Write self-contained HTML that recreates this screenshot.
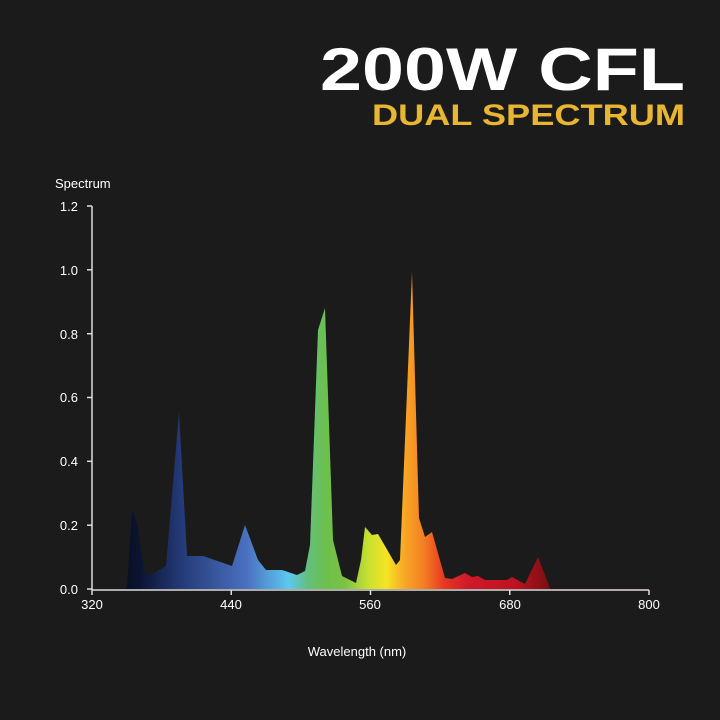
<!DOCTYPE html>
<html><head><style>
html,body{margin:0;padding:0;background:#1b1b1b;}
svg{display:block}
</style></head><body>
<svg width="720" height="720" viewBox="0 0 720 720" xmlns="http://www.w3.org/2000/svg">
<rect width="720" height="720" fill="#1b1b1b"/>
<defs>
<linearGradient id="g" gradientUnits="userSpaceOnUse" x1="92" y1="0" x2="560" y2="0">
<stop offset="0" stop-color="#05070d"/>
<stop offset="0.1" stop-color="#0a1330"/>
<stop offset="0.19" stop-color="#243a78"/>
<stop offset="0.33" stop-color="#4a70bf"/>
<stop offset="0.42" stop-color="#5cc8f0"/>
<stop offset="0.46" stop-color="#62c080"/>
<stop offset="0.5" stop-color="#6cc04c"/>
<stop offset="0.54" stop-color="#7cc244"/>
<stop offset="0.59" stop-color="#c8e030"/>
<stop offset="0.63" stop-color="#f5e424"/>
<stop offset="0.67" stop-color="#f8a424"/>
<stop offset="0.71" stop-color="#f37e22"/>
<stop offset="0.75" stop-color="#e83a22"/>
<stop offset="0.8" stop-color="#d01a2a"/>
<stop offset="0.9" stop-color="#c01222"/>
<stop offset="0.96" stop-color="#8a1014"/>
<stop offset="1" stop-color="#5a0e10"/>
</linearGradient>
</defs>
<text x="685" y="90" text-anchor="end" font-family="Liberation Sans, sans-serif" font-weight="bold" font-size="60" fill="#fff" textLength="365" lengthAdjust="spacingAndGlyphs">200W CFL</text>
<text x="685" y="125" text-anchor="end" font-family="Liberation Sans, sans-serif" font-weight="bold" font-size="30" fill="#e9b632" textLength="313" lengthAdjust="spacingAndGlyphs">DUAL SPECTRUM</text>

<path fill="url(#g)" d="M92,589 L125,589 L127,586 L132,510 L138,526 L140,545 L145,574 L150,575 L166,566 L179,412 L187,556 L203,556 L232,566 L245,525 L258,560 L266,570 L282,570 L297,575 L305,571 L310,545 L318,330 L325,308 L333,540 L342,576 L356,583 L361,560 L365,527 L372,535 L378,534 L396,565 L400,560 L412,272 L419,518 L425,537 L432,532 L445,578 L452,579 L465,573 L472,577 L478,576 L485,580 L507,580 L512,577 L525,584 L538,557 L550,588 L552,589 Z"/>
<line x1="550" y1="589" x2="649" y2="589" stroke="#3a1010" stroke-width="1"/>

<g stroke="#ddd" stroke-width="1.5" fill="none">
<line x1="92" y1="206" x2="92" y2="590"/>
<line x1="92" y1="590" x2="649" y2="590"/>
<line x1="87" y1="206" x2="92" y2="206"/>
<line x1="87" y1="269.8" x2="92" y2="269.8"/>
<line x1="87" y1="333.7" x2="92" y2="333.7"/>
<line x1="87" y1="397.5" x2="92" y2="397.5"/>
<line x1="87" y1="461.3" x2="92" y2="461.3"/>
<line x1="87" y1="525.2" x2="92" y2="525.2"/>
<line x1="87" y1="589" x2="92" y2="589"/>
<line x1="92" y1="590" x2="92" y2="595"/>
<line x1="231.25" y1="590" x2="231.25" y2="595"/>
<line x1="370.5" y1="590" x2="370.5" y2="595"/>
<line x1="509.75" y1="590" x2="509.75" y2="595"/>
<line x1="649" y1="590" x2="649" y2="595"/>
</g>
<g font-family="Liberation Sans, sans-serif" font-size="13" fill="#fff" text-anchor="end">
<text x="78" y="211">1.2</text>
<text x="78" y="275">1.0</text>
<text x="78" y="339">0.8</text>
<text x="78" y="402">0.6</text>
<text x="78" y="466">0.4</text>
<text x="78" y="530">0.2</text>
<text x="78" y="594">0.0</text>
</g>
<g font-family="Liberation Sans, sans-serif" font-size="13" fill="#fff" text-anchor="middle">
<text x="92" y="609">320</text>
<text x="231" y="609">440</text>
<text x="370" y="609">560</text>
<text x="510" y="609">680</text>
<text x="649" y="609">800</text>
<text x="357" y="656">Wavelength (nm)</text>
</g>
<text x="55" y="188" font-family="Liberation Sans, sans-serif" font-size="13" fill="#fff">Spectrum</text>
</svg>
</body></html>
